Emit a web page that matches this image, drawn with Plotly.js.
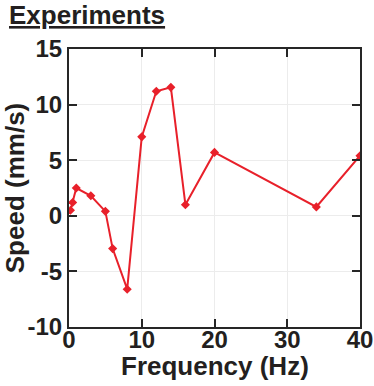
<!DOCTYPE html>
<html><head><meta charset="utf-8">
<script src="https://cdn.plot.ly/plotly-3.0.1.min.js"></script>
<style>html,body{margin:0;padding:0;background:#fff;}</style>
</head><body>
<div id="chart" style="width:374px;height:386px;"></div>
<script>
var frequency = [0.2, 0.5, 1, 3, 5, 6, 8, 10, 12, 14, 16, 20, 34, 40];
var speed = [0.5, 1.2, 2.5, 1.8, 0.4, -2.95, -6.6, 7.1, 11.2, 11.55, 1.0, 5.7, 0.8, 5.4];
var xTicks = [0, 10, 20, 30, 40];
var xTickLabels = ['0', '10', '20', '30', '40'];
var yTicks = [-10, -5, 0, 5, 10, 15];
var yTickLabels = ['-10', '-5', '0', '5', '10', '15'];

var font = 'Liberation Sans, Arial, Helvetica, sans-serif';
var trace = {
  x: frequency, y: speed, type: 'scatter', mode: 'lines+markers',
  line: {color: '#e8202a', width: 2},
  marker: {symbol: 'diamond', size: 7, color: '#e8202a'},
  showlegend: false
};
var axisCommon = {
  showline: true, linecolor: '#262626', linewidth: 2, mirror: 'ticks',
  ticks: 'inside', ticklen: 8, tickwidth: 2, tickcolor: '#262626',
  showgrid: true, gridcolor: '#ececec', gridwidth: 1, zeroline: false,
  tickfont: {family: font, size: 24, color: '#231f20', weight: 'bold'}
};
var layout = {
  width: 374, height: 386,
  margin: {l: 69, r: 14, t: 49, b: 59},
  paper_bgcolor: '#fff', plot_bgcolor: '#fff',
  title: {text: '<u>Experiments</u>', x: 0, xref: 'container', xanchor: 'left', y: 0.985, yanchor: 'top',
          pad: {l: 9},
          font: {family: font, size: 26, color: '#231f20', weight: 'bold'}},
  xaxis: Object.assign({}, axisCommon, {range: [0, 40], tickvals: xTicks, ticktext: xTickLabels,
    ticklabelstandoff: -10}),
  yaxis: Object.assign({}, axisCommon, {range: [-10, 15], tickvals: yTicks, ticktext: yTickLabels,
    title: {text: 'Speed (mm/s)', standoff: 2, font: {family: font, size: 26, color: '#231f20', weight: 'bold'}}}),
  annotations: [{
    text: 'Frequency (Hz)', xref: 'paper', yref: 'paper', x: 0.5, y: 0,
    xanchor: 'center', yanchor: 'top', yshift: -22, showarrow: false,
    font: {family: font, size: 26, color: '#231f20', weight: 'bold'}
  }]
};
Plotly.newPlot('chart', [trace], layout, {staticPlot: true, displayModeBar: false});
</script>
</body></html>
